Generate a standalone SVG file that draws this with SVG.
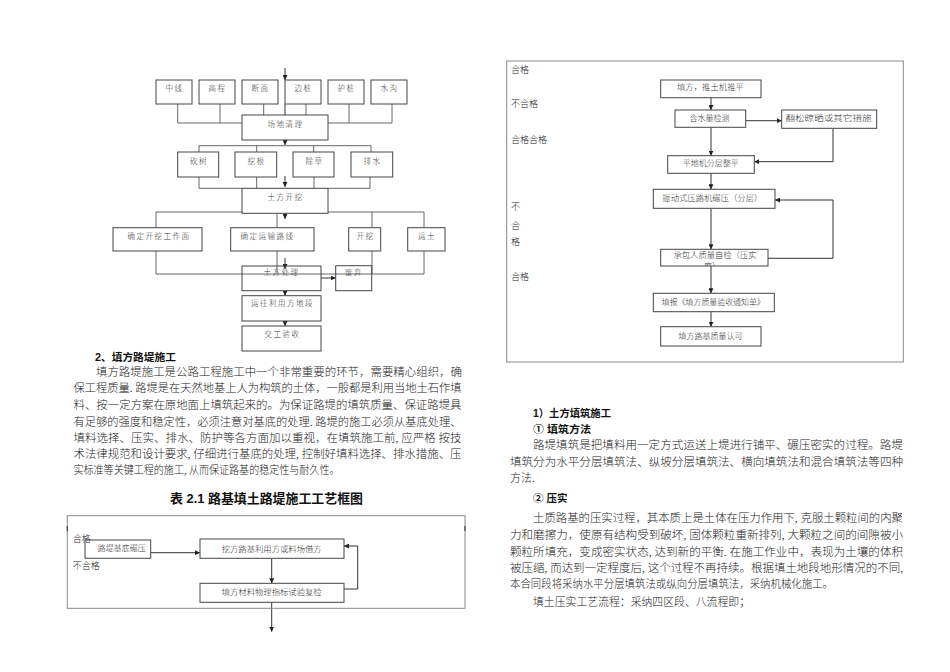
<svg xmlns="http://www.w3.org/2000/svg" width="950" height="672" viewBox="0 0 950 672">
<style>
.bx{fill:#fff;stroke:#444;stroke-width:1}
.ln{fill:none;stroke:#666;stroke-width:1}
.ar{fill:none;stroke:#333;stroke-width:1;marker-end:url(#a)}
.fr{fill:none;stroke:#888;stroke-width:1}
.t{font-family:"Liberation Serif","Noto Sans CJK SC",serif;fill:#333;font-weight:300}
.s{font-size:7.5px;letter-spacing:1.5px;text-anchor:middle}
.m{font-size:8px;text-anchor:middle}
.lb{font-family:"Liberation Serif","Noto Sans CJK SC",serif;font-size:9px;fill:#222;font-weight:300}
.bd{font-family:"Liberation Serif","Noto Sans CJK SC",serif;font-size:11px;fill:#222;font-weight:300}
.h{font-family:"Liberation Sans","Noto Sans CJK SC",sans-serif;font-weight:bold;fill:#111}
</style>
<defs>
<marker id="a" viewBox="0 0 10 10" refX="10" refY="5" markerWidth="5" markerHeight="5" markerUnits="userSpaceOnUse" orient="auto"><path d="M0,0 L10,5 L0,10 z" fill="#222"/></marker>
<clipPath id="cb"><rect x="660.7" y="249.3" width="107.3" height="16.7"/></clipPath>
</defs>
<rect width="950" height="672" fill="#fff"/>

<!-- connectors -->
<g id="connectors">
<line class="ar" x1="285" y1="68" x2="285" y2="80"/>
<path class="ln" d="M177.7,104 V123 H242 M220,104 V123 M263.7,104 V115 M306,104 V115 M349,104 V123 H328 M392,104 V123 H349"/>
<line class="ar" x1="285" y1="104" x2="285" y2="121"/>
<line class="ar" x1="285" y1="140" x2="285" y2="145"/>
<path class="ln" d="M199,145.7 H371 M199,145.7 V152 M256.7,145.7 V152 M313.7,145.7 V152 M371,145.7 V152"/>
<path class="ln" d="M199,177 V188.3 H242 M256.7,177 V188.3 M314,177 V188.3 M370,177 V188.3 H328"/>
<line class="ar" x1="285" y1="176" x2="285" y2="187"/>
<path class="ln" d="M156,212 H424 M156,212 V227.7 M277,212 V227.7 M372,212 V227.7 M424,212 V227.7"/>
<line class="ar" x1="285" y1="213" x2="285" y2="219"/>
<path class="ln" d="M156,251 V274 H424 V251 M372,251 V274 M277,251 V274"/>
<line class="ar" x1="285" y1="258" x2="285" y2="269"/>
<line class="ar" x1="321" y1="278" x2="335.7" y2="278"/>
<line class="ar" x1="285" y1="290.7" x2="285" y2="295.7"/>
<line class="ar" x1="285" y1="321" x2="285" y2="326"/>
<line class="ar" x1="150.7" y1="552.7" x2="200" y2="552.7"/>
<line class="ar" x1="271.7" y1="558.3" x2="271.7" y2="583.3"/>
<path class="ar" d="M344,589 H357.7 V546 H344"/>
<line class="ar" x1="271.7" y1="602.3" x2="271.7" y2="631.7"/>
<line class="ar" x1="711" y1="97.7" x2="711" y2="110"/>
<line class="ar" x1="745.7" y1="120.7" x2="781.7" y2="120.7"/>
<path class="ar" d="M833,128.3 V161.7 H754.3"/>
<line class="ar" x1="711" y1="127.3" x2="711" y2="155.7"/>
<line class="ar" x1="711" y1="173.3" x2="711" y2="189.3"/>
<path class="ar" d="M768,258.3 H833 V200 H775"/>
<line class="ar" x1="711" y1="208.3" x2="711" y2="249.3"/>
<line class="ar" x1="711" y1="266" x2="711" y2="293.3"/>
<line class="ar" x1="711" y1="311.7" x2="711" y2="326.7"/>
</g>

<g id="n-zx"><rect class="bx" x="156" y="80" width="36" height="24"/><text class="t s" x="174.5" y="91">中线</text></g>
<g id="n-gc"><rect class="bx" x="199" y="80" width="36" height="24"/><text class="t s" x="217.5" y="91">高程</text></g>
<g id="n-dm"><rect class="bx" x="242" y="80" width="36" height="24"/><text class="t s" x="260.5" y="91">断面</text></g>
<g id="n-bz"><rect class="bx" x="285" y="80" width="36" height="24"/><text class="t s" x="303.5" y="91">边桩</text></g>
<g id="n-hz"><rect class="bx" x="328" y="80" width="36" height="24"/><text class="t s" x="346.5" y="91">护桩</text></g>
<g id="n-sg"><rect class="bx" x="371" y="80" width="36" height="24"/><text class="t s" x="389.5" y="91">水沟</text></g>
<g id="n-cdql"><rect class="bx" x="242" y="115" width="86" height="25"/><text class="t s" x="285.5" y="126.5">场地清理</text></g>
<g id="n-ks"><rect class="bx" x="177.7" y="152" width="41" height="25"/><text class="t s" x="199" y="163.5">砍树</text></g>
<g id="n-wg"><rect class="bx" x="235" y="152" width="41.7" height="25"/><text class="t s" x="256.5" y="163.5">挖根</text></g>
<g id="n-cc"><rect class="bx" x="293" y="152" width="41" height="25"/><text class="t s" x="314.5" y="163.5">除草</text></g>
<g id="n-ps"><rect class="bx" x="351" y="152" width="41.7" height="25"/><text class="t s" x="372.5" y="163.5">排水</text></g>
<g id="n-tfkw"><rect class="bx" x="242" y="188.3" width="86" height="25"/><text class="t s" x="285.5" y="199.5">土方开挖</text></g>
<g id="n-qdkw"><rect class="bx" x="113" y="227.7" width="89" height="23.3"/><text class="t s" x="159" y="239">确定开挖工作面</text></g>
<g id="n-qdys"><rect class="bx" x="230.7" y="227.7" width="83.3" height="23.3"/><text class="t s" x="267.5" y="239">确定运输路线</text></g>
<g id="n-kw"><rect class="bx" x="348.7" y="227.7" width="32" height="23.3"/><text class="t s" x="365.5" y="239">开挖</text></g>
<g id="n-yt"><rect class="bx" x="407.7" y="227.7" width="37.3" height="23.3"/><text class="t s" x="427" y="239">运土</text></g>
<g id="n-tfcl"><rect class="bx" x="242" y="266" width="79" height="24.7" fill-opacity="0"/><text class="t s" x="281.5" y="274.5">土方处理</text></g>
<g id="n-fq"><rect class="bx" x="335.7" y="265.7" width="36" height="25" fill-opacity="0"/><text class="t s" x="354" y="274.5">废弃</text></g>
<g id="n-ywly"><rect class="bx" x="242" y="295.7" width="79" height="25.3"/><text class="t s" x="282.5" y="305.5">运往利用方地段</text></g>
<g id="n-jgys"><rect class="bx" x="242" y="326" width="79" height="25"/><text class="t s" x="282.5" y="337">交工验收</text></g>

<g id="left-text">
<text class="h" x="95" y="360.5" font-size="10.5" textLength="81" lengthAdjust="spacingAndGlyphs">2、填方路堤施工</text>
<text class="bd" x="96" y="376" textLength="366" lengthAdjust="spacingAndGlyphs">填方路堤施工是公路工程施工中一个非常重要的环节，需要精心组织，确</text>
<text class="bd" x="73.5" y="392.3" textLength="388" lengthAdjust="spacingAndGlyphs">保工程质量. 路堤是在天然地基上人为构筑的土体，一般都是利用当地土石作填</text>
<text class="bd" x="73.5" y="409" textLength="388" lengthAdjust="spacingAndGlyphs">料、按一定方案在原地面上填筑起来的。为保证路堤的填筑质量、保证路堤具</text>
<text class="bd" x="73.5" y="425.7" textLength="388" lengthAdjust="spacingAndGlyphs">有足够的强度和稳定性，必须注意对基底的处理. 路堤的施工必须从基底处理、</text>
<text class="bd" x="73.5" y="441.7" textLength="388" lengthAdjust="spacingAndGlyphs">填料选择、压实、排水、防护等各方面加以重视，在填筑施工前, 应严格  按技</text>
<text class="bd" x="73.5" y="458" textLength="388" lengthAdjust="spacingAndGlyphs">术法律规范和设计要求, 仔细进行基底的处理, 控制好填料选择、排水措施、压</text>
<text class="bd" x="73.5" y="474" textLength="266" lengthAdjust="spacingAndGlyphs">实标准等关键工程的施工, 从而保证路基的稳定性与耐久性。</text>
<text class="h" x="170" y="502.5" font-size="13" textLength="193" lengthAdjust="spacingAndGlyphs">表 2.1  路基填土路堤施工工艺框图</text>
</g>

<rect class="fr" x="67.3" y="515.7" width="397.7" height="92.6"/>
<path d="M67.3,526 V531 M465,526 V531" stroke="#444" stroke-width="1.2"/>
<text class="lb" x="72.7" y="541.5">合格</text>
<text class="lb" x="72.7" y="568.5">不合格</text>
<g id="n-ljjd"><rect class="bx" x="85" y="540" width="65.7" height="18.3" fill-opacity="0"/><text class="t m" x="121.7" y="551">路堤基底碾压</text></g>
<g id="n-wflj"><rect class="bx" x="200" y="539" width="144" height="19.3"/><text class="t m" x="271.7" y="551.5" textLength="100" lengthAdjust="spacingAndGlyphs">挖方路基利用方或料场借方</text></g>
<g id="n-tfcl2"><rect class="bx" x="200" y="583.3" width="144" height="19"/><text class="t m" x="271.7" y="595.3" textLength="100" lengthAdjust="spacingAndGlyphs">填方材料物理指标试验复检</text></g>

<rect class="fr" x="506.7" y="61" width="396.6" height="301"/>
<text class="lb" x="511" y="72.8">合格</text>
<text class="lb" x="511" y="106.5">不合格</text>
<text class="lb" x="511" y="142.5">合格合格</text>
<text class="lb" x="511" y="209.5">不</text>
<text class="lb" x="511" y="228.5">合</text>
<text class="lb" x="511" y="245.2">格</text>
<text class="lb" x="511" y="280.2">合格</text>
<g id="n-tf"><rect class="bx" x="660.7" y="80" width="100.3" height="17.7"/><text class="t m" x="710.5" y="90" textLength="67" lengthAdjust="spacingAndGlyphs">填方，推土机推平</text></g>
<g id="n-hsl"><rect class="bx" x="675" y="110" width="70.7" height="17.3"/><text class="t m" x="709.5" y="120.5">含水量检测</text></g>
<g id="n-fs"><rect class="bx" x="781.7" y="110" width="95" height="18.3"/><text class="t m" x="828.5" y="120.5" textLength="86" lengthAdjust="spacingAndGlyphs">翻松晾晒或其它措施</text></g>
<g id="n-pdj"><rect class="bx" x="667.7" y="155.7" width="86.6" height="17.6"/><text class="t m" x="710.7" y="165.5">平地机分层整平</text></g>
<g id="n-zds"><rect class="bx" x="653.3" y="189.3" width="121.7" height="19"/><text class="t m" x="712.3" y="200.5" textLength="100" lengthAdjust="spacingAndGlyphs">振动式压路机碾压（分层）</text></g>
<g id="n-cbr"><rect class="bx" x="660.7" y="249.3" width="107.3" height="16.7"/><g clip-path="url(#cb)"><text class="t m" x="715" y="258.2" textLength="83" lengthAdjust="spacingAndGlyphs">承包人质量自检（压实</text><text class="t m" x="712" y="268.5">度）</text></g></g>
<g id="n-tb"><rect class="bx" x="653.3" y="293.3" width="121" height="18.4"/><text class="t m" x="713.3" y="304.7" textLength="103" lengthAdjust="spacingAndGlyphs">填报《填方质量验收通知单》</text></g>
<g id="n-rk"><rect class="bx" x="660.7" y="326.7" width="100.3" height="19.3"/><text class="t m" x="710.5" y="339">填方路基质量认可</text></g>

<g id="right-text">
<text class="h" x="533" y="417" font-size="10.5" textLength="78" lengthAdjust="spacingAndGlyphs">1）土方填筑施工</text>
<text class="h" x="533" y="433" font-size="10.5" textLength="58" lengthAdjust="spacingAndGlyphs">① 填筑方法</text>
<text class="bd" x="533" y="449" textLength="370" lengthAdjust="spacingAndGlyphs">路堤填筑是把填料用一定方式运送上堤进行铺平、碾压密实的过程。路堤</text>
<text class="bd" x="510" y="465.7" textLength="393" lengthAdjust="spacingAndGlyphs">填筑分为水平分层填筑法、纵坡分层填筑法、横向填筑法和混合填筑法等四种</text>
<text class="bd" x="510" y="482">方法.</text>
<text class="h" x="533" y="501.5" font-size="10.5">② 压实</text>
<text class="bd" x="533" y="522.3" textLength="370" lengthAdjust="spacingAndGlyphs">土质路基的压实过程，其本质上是土体在压力作用下, 克服土颗粒间的内聚</text>
<text class="bd" x="510" y="539" textLength="393" lengthAdjust="spacingAndGlyphs">力和磨擦力，使原有结构受到破坏, 固体颗粒重新排列, 大颗粒之间的间隙被小</text>
<text class="bd" x="510" y="555.7" textLength="393" lengthAdjust="spacingAndGlyphs">颗粒所填充，变成密实状态, 达到新的平衡. 在施工作业中，表现为土壤的体积</text>
<text class="bd" x="510" y="572" textLength="393" lengthAdjust="spacingAndGlyphs">被压缩, 而达到一定程度后, 这个过程不再持续。根据填土地段地形情况的不同,</text>
<text class="bd" x="510" y="588" textLength="323" lengthAdjust="spacingAndGlyphs">本合同段将采纳水平分层填筑法或纵向分层填筑法，采纳机械化施工。</text>
<text class="bd" x="533" y="605.7" textLength="217" lengthAdjust="spacingAndGlyphs">填土压实工艺流程：采纳四区段、八流程即；</text>
</g>
</svg>
